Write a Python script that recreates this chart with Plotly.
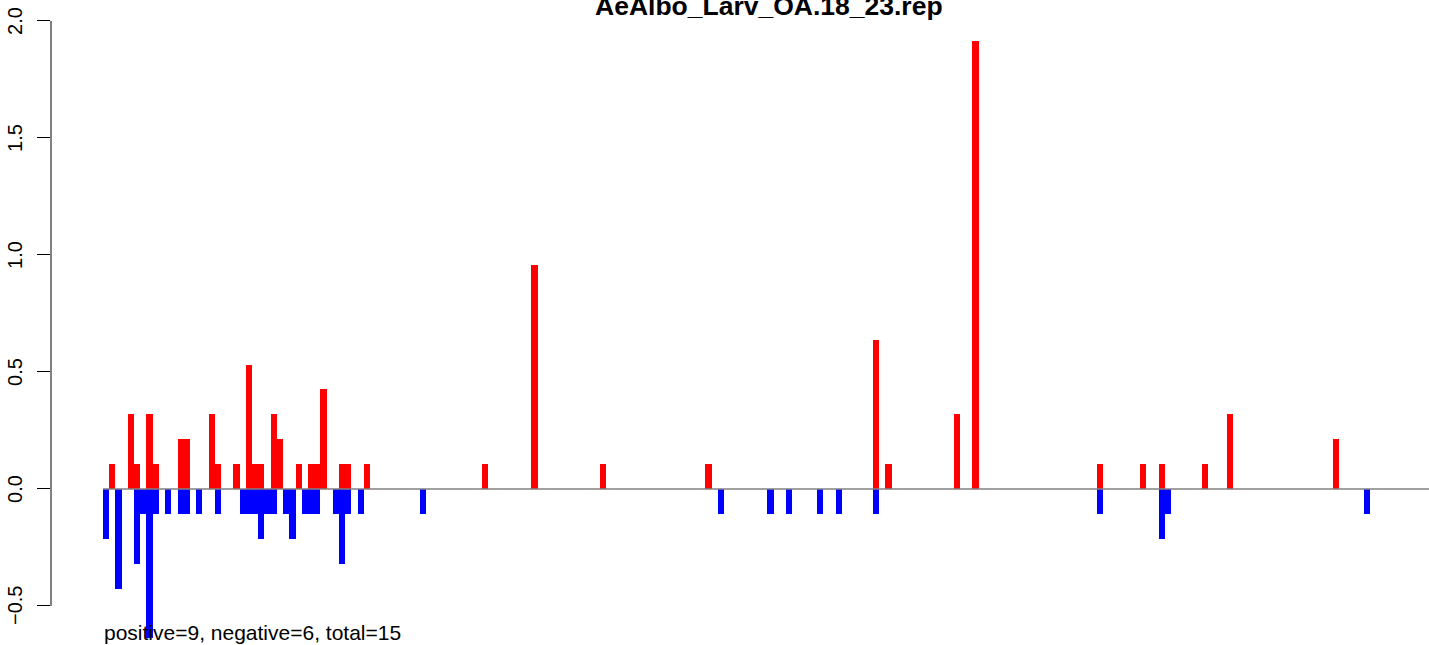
import plotly.graph_objects as go

# ---- data ----
title_text = "AeAlbo_Larv_OA.18_23.rep"
summary_text = "positive=9, negative=6, total=15"

pos_slots = [1, 4, 5, 7, 8, 12, 13, 17, 18, 21, 23, 24, 25, 27, 28, 31, 33, 34, 35,
             38, 39, 42, 61, 69, 80, 97, 124, 126, 137, 140, 160, 167, 170, 177, 181, 198]
pos_vals = [0.106, 0.319, 0.106, 0.319, 0.106, 0.213, 0.213, 0.319, 0.106, 0.106,
            0.532, 0.106, 0.106, 0.319, 0.213, 0.106, 0.106, 0.106, 0.426,
            0.106, 0.106, 0.106, 0.106, 0.957, 0.106, 0.106, 0.638, 0.106, 0.319,
            1.915, 0.106, 0.106, 0.106, 0.106, 0.319, 0.213]

neg_slots = [0, 2, 5, 6, 7, 8, 10, 12, 13, 15, 18, 22, 23, 24, 25, 26, 27, 29, 30,
             32, 33, 34, 37, 38, 39, 41, 51, 99, 107, 110, 115, 118, 124, 160, 170, 171, 203]
neg_vals = [-0.213, -0.426, -0.319, -0.106, -0.638, -0.106, -0.106, -0.106, -0.106,
            -0.106, -0.106, -0.106, -0.106, -0.106, -0.213, -0.106, -0.106, -0.106,
            -0.213, -0.106, -0.106, -0.106, -0.106, -0.319, -0.106, -0.106, -0.106,
            -0.106, -0.106, -0.106, -0.106, -0.106, -0.106, -0.106, -0.213, -0.106, -0.106]

y_tick_vals = [-0.5, 0.0, 0.5, 1.0, 1.5, 2.0]
y_tick_text = ["\u22120.5", "0.0", "0.5", "1.0", "1.5", "2.0"]

FONT = "Liberation Sans, Arial, Helvetica, sans-serif"
W, H = 1429, 645
ML = 51
PW = W - ML

fig = go.Figure()
fig.add_bar(x=pos_slots, y=pos_vals, width=1,
            marker=dict(color="#FF0000", line=dict(width=0)), hoverinfo="skip")
fig.add_bar(x=neg_slots, y=neg_vals, width=1,
            marker=dict(color="#0000FF", line=dict(width=0)), hoverinfo="skip")

shapes = [
    # zero line
    dict(type="line", xref="x", yref="y", x0=-0.5, x1=215, y0=0, y1=0,
         line=dict(color="#808080", width=1.4), layer="above"),
    # y axis spine (only between first and last tick, like R)
    dict(type="line", xref="paper", yref="y", x0=0, x1=0, y0=-0.5, y1=2.0,
         line=dict(color="black", width=1), layer="above"),
]

annotations = [
    dict(text="<b>" + title_text + "</b>", xref="paper", yref="paper",
         x=(768.5 - ML) / PW, y=1 - 6 / H, xanchor="center", yanchor="middle",
         showarrow=False, font=dict(family=FONT, size=26.5, color="black")),
    dict(text=summary_text, xref="paper", yref="paper",
         x=(102 - ML) / PW, y=1 - 632.7 / H, xanchor="left", yanchor="middle",
         showarrow=False, font=dict(family=FONT, size=21, color="black")),
]
for v, t in zip(y_tick_vals, y_tick_text):
    annotations.append(dict(text=t, xref="paper", yref="y", x=(15 - ML) / PW, y=v,
                            xanchor="center", yanchor="middle", textangle=-90,
                            showarrow=False, font=dict(family=FONT, size=20, color="black")))

fig.update_layout(
    width=W, height=H,
    margin=dict(l=ML, r=0, t=0, b=0),
    barmode="overlay", bargap=0,
    plot_bgcolor="white", paper_bgcolor="white",
    showlegend=False,
    xaxis=dict(range=[-8.874, 213.03], showgrid=False, zeroline=False,
               showticklabels=False, ticks="", showline=False),
    yaxis=dict(range=[-0.6667, 2.0897], tickvals=y_tick_vals, ticks="outside",
               ticklen=13, tickwidth=1, tickcolor="black", showticklabels=False,
               showgrid=False, zeroline=False, showline=False),
    shapes=shapes,
    annotations=annotations,
)

fig.write_html(
    "out.html",
    config={"displayModeBar": False, "staticPlot": True},
    post_script="document.body.style.margin='0';document.body.style.padding='0';"
                "document.body.style.overflow='hidden';",
)
